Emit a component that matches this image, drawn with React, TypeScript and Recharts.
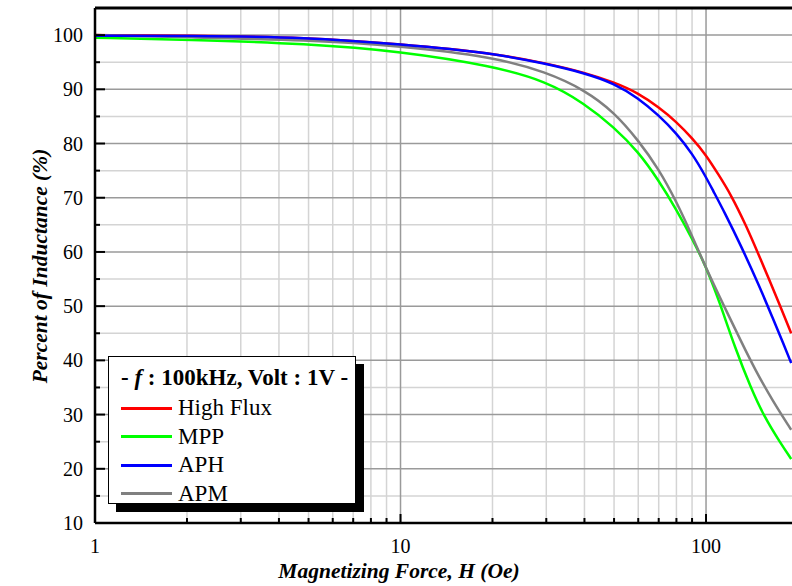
import React from 'react';
import { LineChart, Line, XAxis, YAxis, CartesianGrid } from 'recharts';

// magnetizing force H (Oe) and percent of inductance for each core material
const hfH = [1, 2, 5, 10, 20, 30, 40, 50, 60, 70, 80, 90, 100, 110, 120, 135, 150, 175, 190];
const hfPct = [100, 99.9, 99.6, 98.3, 96.7, 94.8, 93.1, 91.3, 89.3, 86.7, 84, 81, 77.9, 74.2, 70.8, 65, 59, 50, 45];

const mppH = [1, 2, 5, 10, 20, 30, 40, 50, 60, 70, 80, 90, 100, 110, 125, 140, 155, 175, 190];
const mppPct = [99.5, 99.2, 98.4, 97, 94.3, 91.5, 87.4, 83, 78.5, 73.2, 67.8, 62.5, 57.3, 51.2, 42, 35, 29.6, 24.8, 21.8];

const aphH = [1, 2, 5, 10, 20, 30, 40, 50, 60, 70, 80, 90, 100, 105, 115, 130, 150, 165, 180, 190];
const aphPct = [99.9, 99.9, 99.6, 98.3, 96.7, 94.7, 93, 91.1, 88.4, 85.2, 81.9, 78.2, 73.8, 71.5, 67.3, 61.2, 53.5, 47.9, 42.8, 39.5];

const apmH = [1, 2, 5, 10, 20, 30, 40, 50, 60, 70, 80, 90, 100, 115, 130, 145, 165, 190];
const apmPct = [100, 99.6, 99.1, 98, 96, 93.2, 89.9, 85.8, 80.6, 75.3, 69.3, 63, 57, 49.8, 43.6, 38.2, 32.6, 27.2];

const xTicks = [1, 2, 3, 4, 5, 6, 7, 8, 9, 10, 20, 30, 40, 50, 60, 70, 80, 90, 100];
const xMajor = [1, 10, 100];
const yTicks = [10, 15, 20, 25, 30, 35, 40, 45, 50, 55, 60, 65, 70, 75, 80, 85, 90, 95, 100];
const yMajor = [10, 20, 30, 40, 50, 60, 70, 80, 90, 100];
const yMinor = [15, 25, 35, 45, 55, 65, 75, 85, 95];
const xMinor = [2, 3, 4, 5, 6, 7, 8, 9, 20, 30, 40, 50, 60, 70, 80, 90];

const legendItems = [
  { name: 'High Flux', color: '#ff0000' },
  { name: 'MPP', color: '#00ff00' },
  { name: 'APH', color: '#0000ff' },
  { name: 'APM', color: '#808080' },
];

const toRows = (h: number[], v: number[]) => h.map((x, i) => ({ h: x, v: v[i] }));

const FONT = '"Liberation Serif", "Times New Roman", serif';

const XTick = (props: any) => {
  const { x, y, payload } = props;
  const major = xMajor.includes(payload.value);
  return (
    <g>
      {payload.value !== 1 && (
        <line x1={x} x2={x} y1={y} y2={y - (major ? 9 : 5)} stroke="#000" strokeWidth={2} />
      )}
      {major && (
        <text x={x} y={y + 30} textAnchor="middle" fontSize={20} fontFamily={FONT} fill="#000">
          {payload.value}
        </text>
      )}
    </g>
  );
};

const YTick = (props: any) => {
  const { x, y, payload } = props;
  const major = payload.value % 10 === 0;
  return (
    <g>
      {payload.value !== 10 && (
        <line x1={x} x2={x + (major ? 10 : 5)} y1={y} y2={y} stroke="#000" strokeWidth={2} />
      )}
      {major && (
        <text x={x - 12} y={y + 7} textAnchor="end" fontSize={20} fontFamily={FONT} fill="#000">
          {payload.value}
        </text>
      )}
    </g>
  );
};

export default function App() {
  return (
    <div
      style={{
        position: 'absolute',
        left: 0,
        top: 0,
        width: 792,
        height: 586,
        overflow: 'hidden',
        background: '#fff',
        fontFamily: FONT,
      }}
    >
      <LineChart width={812} height={586} margin={{ top: 8, right: 14, bottom: 0, left: 0 }}>
        <CartesianGrid horizontalValues={yMinor} verticalValues={xMinor} stroke="#d4d4d4" strokeWidth={1.5} />
        <CartesianGrid horizontalValues={yMajor} verticalValues={[10, 100]} stroke="#9a9a9a" strokeWidth={1.5} />
        <CartesianGrid horizontalValues={[105]} vertical={false} stroke="#000" strokeWidth={3} />
        <XAxis
          dataKey="h"
          type="number"
          scale="log"
          domain={[1, 200]}
          allowDataOverflow
          ticks={xTicks}
          interval={0}
          tickSize={0}
          tickMargin={0}
          tick={XTick}
          axisLine={{ stroke: '#000', strokeWidth: 2.5 }}
          height={63}
        />
        <YAxis
          type="number"
          domain={[10, 105]}
          allowDataOverflow
          ticks={yTicks}
          interval={0}
          tickSize={0}
          tickMargin={0}
          tick={YTick}
          axisLine={{ stroke: '#000', strokeWidth: 2.5 }}
          width={95}
        />
        <Line data={toRows(hfH, hfPct)} dataKey="v" type="basis" stroke="#ff0000" strokeWidth={2.5} dot={false} isAnimationActive={false} />
        <Line data={toRows(mppH, mppPct)} dataKey="v" type="basis" stroke="#00ff00" strokeWidth={2.5} dot={false} isAnimationActive={false} />
        <Line data={toRows(apmH, apmPct)} dataKey="v" type="basis" stroke="#808080" strokeWidth={2.5} dot={false} isAnimationActive={false} />
        <Line data={toRows(aphH, aphPct)} dataKey="v" type="basis" stroke="#0000ff" strokeWidth={2.5} dot={false} isAnimationActive={false} />
      </LineChart>

      {/* axis titles */}
      <div
        style={{
          position: 'absolute',
          left: 40 - 150,
          top: 266 - 13,
          width: 300,
          textAlign: 'center',
          transform: 'rotate(-90deg)',
          fontSize: 21.5,
          lineHeight: '26px',
          fontWeight: 'bold',
          fontStyle: 'italic',
          whiteSpace: 'nowrap',
        }}
      >
        Percent of Inductance (%)
      </div>
      <div
        style={{
          position: 'absolute',
          left: 399 - 150,
          top: 558,
          width: 300,
          textAlign: 'center',
          fontSize: 21.5,
          lineHeight: '26px',
          fontWeight: 'bold',
          fontStyle: 'italic',
          whiteSpace: 'nowrap',
        }}
      >
        Magnetizing Force, H (Oe)
      </div>

      {/* legend box with black drop shadow */}
      <div
        style={{
          position: 'absolute',
          left: 108,
          top: 356,
          width: 246,
          height: 146,
          border: '1px solid #000',
          background: '#fff',
          boxShadow: '8px 8px 0 #000',
        }}
      >
        <div
          style={{
            position: 'absolute',
            left: 12,
            top: 8,
            fontSize: 23,
            lineHeight: '26px',
            fontWeight: 'bold',
            whiteSpace: 'nowrap',
          }}
        >
          - <i>f</i> : 100kHz, Volt : 1V -
        </div>
        {legendItems.map((it, i) => (
          <div
            key={it.name}
            style={{ position: 'absolute', left: 12, top: 38 + i * 28.5, height: 26, display: 'flex', alignItems: 'center' }}
          >
            <div style={{ width: 51, height: 3, background: it.color, marginRight: 6 }} />
            <span style={{ fontSize: 23, lineHeight: '26px', whiteSpace: 'nowrap' }}>{it.name}</span>
          </div>
        ))}
      </div>
    </div>
  );
}
